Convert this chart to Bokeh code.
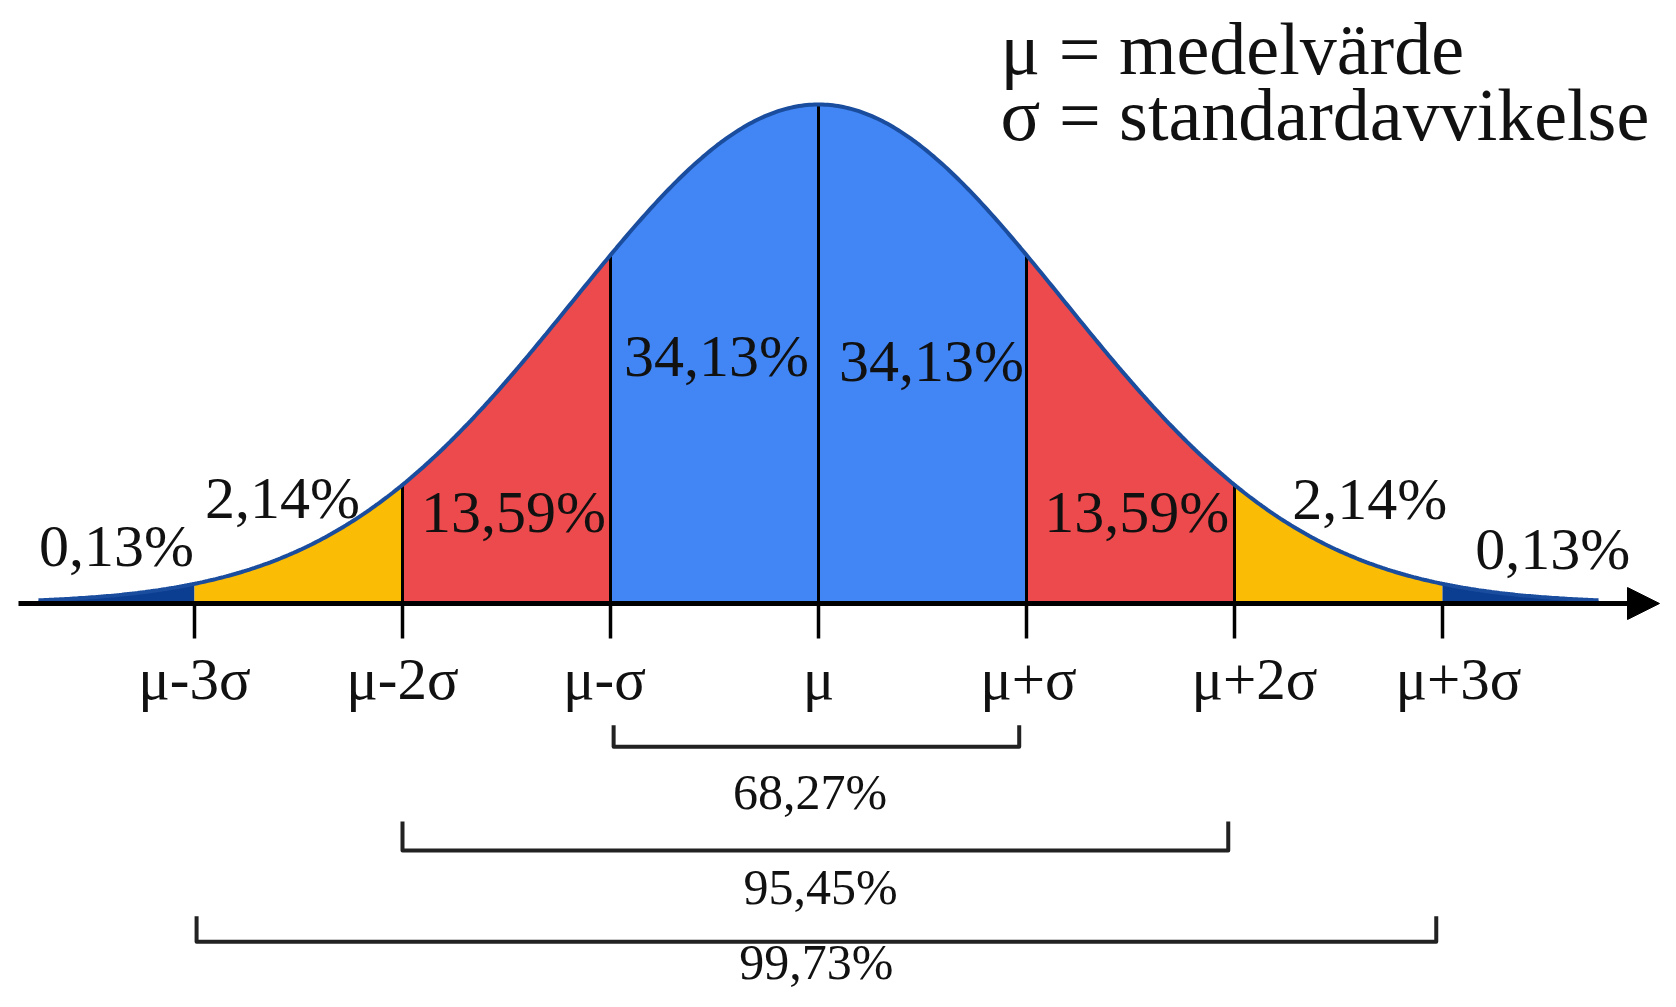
import numpy as np
from bokeh.plotting import figure
from bokeh.models import Range1d, Arrow, NormalHead
from bokeh.core.properties import value
from bokeh.embed import file_html
from bokeh.resources import INLINE

# ---------------- data ----------------
sigma_marks = [-3, -2, -1, 0, 1, 2, 3]
tick_labels = ["μ-3σ", "μ-2σ", "μ-σ", "μ", "μ+σ", "μ+2σ", "μ+3σ"]
band_edges = [-3.75, -3, -2, -1, 0, 1, 2, 3, 3.75]
band_pct = ["0,13%", "2,14%", "13,59%", "34,13%", "34,13%", "13,59%", "2,14%", "0,13%"]
bracket_span = [1, 2, 3]
bracket_pct = ["68,27%", "95,45%", "99,73%"]
legend_lines = ["μ = medelvärde", "σ = standardavvikelse"]
curve_width = 1.18   # visual width of the drawn bell curve, in σ-tick units

# ---------------- layout / style ----------------
W, H = 1660, 991
MU_PX, SIG_PX, AXIS_PX, PEAK_PX = 818, 208, 603, 499   # in figure pixels
X0 = (0 - MU_PX) / SIG_PX
X1 = (W - MU_PX) / SIG_PX
Y1 = (AXIS_PX - 0) / PEAK_PX
Y0 = (AXIS_PX - H) / PEAK_PX

band_colors = ["#0b3d91", "#fbbc05", "#ec4a4c", "#4285f4",
               "#4285f4", "#ec4a4c", "#fbbc05", "#0b3d91"]
band_label_x = [-3.375, -2.577, -1.466, -0.49, 0.543, 1.53, 2.65, 3.53]
band_label_y = [0.116, 0.212, 0.184, 0.495, 0.485, 0.184, 0.21, 0.11]
tick_label_dx = [0, 0, -6, 0, 2, 20, 16]
tick_label_y = -0.152
bracket_inset = [(0.015, 0.035), (0.0, 0.03), (0.01, 0.03)]
bracket_top = [-0.244, -0.437, -0.627]
bracket_bot = [-0.287, -0.495, -0.678]
bracket_label_x = [-0.04, 0.01, -0.01]
bracket_label_y = [-0.377, -0.569, -0.718]
legend_x = 0.875
legend_y = [1.112, 0.978]
FONT = value("Liberation Serif")


def bell(x):
    return np.exp(-0.5 * (np.asarray(x) / curve_width) ** 2)


p = figure(width=W, height=H, output_backend="svg", toolbar_location=None,
           x_range=Range1d(X0, X1), y_range=Range1d(Y0, Y1),
           x_axis_type=None, y_axis_type=None,
           min_border=0, min_border_left=0, min_border_right=0,
           min_border_top=0, min_border_bottom=0)
p.grid.visible = False
p.outline_line_color = None
p.background_fill_color = "white"

# filled bands
for i in range(len(band_pct)):
    xs = np.linspace(band_edges[i], band_edges[i + 1], 120)
    p.varea(x=xs, y1=0, y2=bell(xs), fill_color=band_colors[i])

# vertical separators inside the curve
inner = [m for m in sigma_marks if abs(m) < 3]
p.segment(x0=inner, y0=[0] * len(inner), x1=inner, y1=list(bell(inner)),
          line_color="black", line_width=3)

# curve outline
xc = np.linspace(band_edges[0], band_edges[-1], 600)
p.line(xc, bell(xc), line_color="#1a4d9e", line_width=4)

# tick marks below the axis
tick_len = 35 / PEAK_PX
p.segment(x0=sigma_marks, y0=[0] * 7, x1=sigma_marks, y1=[-tick_len] * 7,
          line_color="black", line_width=3.5)

# x axis with arrow
p.add_layout(Arrow(end=NormalHead(size=32, fill_color="black", line_color="black", line_width=1),
                   x_start=(18 - MU_PX) / SIG_PX, y_start=0,
                   x_end=(1659 - MU_PX) / SIG_PX, y_end=0,
                   line_color="black", line_width=5))

# tick labels
p.text(x=sigma_marks, y=[tick_label_y] * 7, text=tick_labels, x_offset=tick_label_dx,
       text_font=FONT, text_font_size="59px", text_align="center",
       text_baseline="middle", text_color="#111111")

# band labels
p.text(x=band_label_x, y=band_label_y, text=band_pct,
       text_font=FONT, text_font_size="60px", text_align="center",
       text_baseline="middle", text_color="#111111")

# brackets
bxs, bys = [], []
for s, (li, ri), t, b in zip(bracket_span, bracket_inset, bracket_top, bracket_bot):
    l, r = -s + li, s - ri
    bxs.append([l, l, r, r])
    bys.append([t, b, b, t])
p.multi_line(xs=bxs, ys=bys, line_color="#222222", line_width=4, line_join="round")
p.text(x=bracket_label_x, y=bracket_label_y, text=bracket_pct,
       text_font=FONT, text_font_size="50px", text_align="center",
       text_baseline="middle", text_color="#111111")

# legend text
p.text(x=[legend_x] * 2, y=legend_y, text=legend_lines,
       text_font=FONT, text_font_size="74px", text_align="left",
       text_baseline="middle", text_color="#111111")

open("out.html", "w").write(file_html(p, INLINE))
